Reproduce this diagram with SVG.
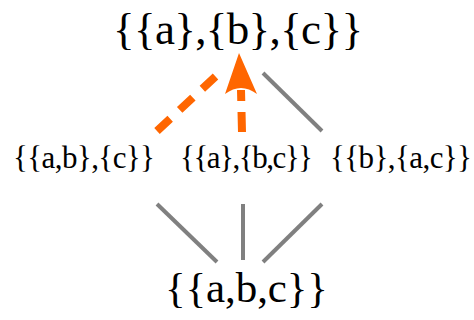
<svg xmlns="http://www.w3.org/2000/svg" width="474" height="320" viewBox="0 0 474 320">
<style>
text{font-family:"Liberation Serif","Times New Roman",serif;fill:#000}
.big{font-size:45px}
.bot{font-size:43px}
.mid{font-size:31px}
.gray{stroke:#808080;stroke-width:4;fill:none}
.orange{stroke:#ff6600;stroke-width:8;fill:none}
</style>
<rect width="474" height="320" fill="#fff"/>
<g id="connectors">
<line class="gray" x1="263" y1="73" x2="322" y2="131"/>
<line class="gray" x1="157" y1="204" x2="217" y2="262"/>
<line class="gray" x1="243" y1="204" x2="243" y2="260"/>
<line class="gray" x1="322" y1="204" x2="263" y2="262"/>
<line class="orange" x1="157" y1="131" x2="216" y2="76" stroke-dasharray="18 13"/>
<line class="orange" x1="242" y1="132" x2="241" y2="90" stroke-width="9" stroke-dasharray="20 11"/>
<path d="M239,53 L257,94 Q241,82 225,94 Z" fill="#ff6600"/>
</g>
<g id="top"><text class="big" x="113" y="44" textLength="250" lengthAdjust="spacing">{{a},{b},{c}}</text></g>
<g id="left"><text class="mid" x="13" y="168" textLength="142" lengthAdjust="spacing">{{a,b},{c}}</text></g>
<g id="center"><text class="mid" x="180" y="168" textLength="133" lengthAdjust="spacing">{{a},{b,c}}</text></g>
<g id="right"><text class="mid" x="330" y="168" textLength="142" lengthAdjust="spacing">{{b},{a,c}}</text></g>
<g id="bottom"><text class="bot" x="165" y="302" textLength="163" lengthAdjust="spacing">{{a,b,c}}</text></g>
</svg>
